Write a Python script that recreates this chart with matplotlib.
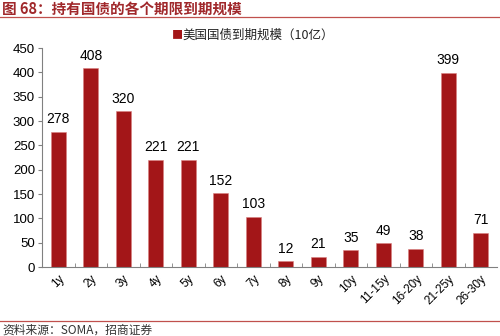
import matplotlib.pyplot as plt
from matplotlib.lines import Line2D

plt.rcParams['font.family'] = ['Liberation Sans', 'Noto Sans CJK SC', 'DejaVu Sans']

# maturity buckets and holdings (billion USD)
terms = ['1y', '2y', '3y', '4y', '5y', '6y', '7y', '8y', '9y', '10y',
         '11-15y', '16-20y', '21-25y', '26-30y']
amounts = [278, 408, 320, 221, 221, 152, 103, 12, 21, 35, 49, 38, 399, 71]
yticks = [0, 50, 100, 150, 200, 250, 300, 350, 400, 450]

title = '图 68：持有国债的各个期限到期规模'
source = '资料来源：SOMA，招商证券'
series_name = '美国国债到期规模（10亿）'

bar_color = '#A31618'
line_color = '#C0504D'
cjk = ['Noto Sans CJK SC', 'DejaVu Sans']

fig = plt.figure(figsize=(5, 3.36), dpi=100)
ax = fig.add_axes([0.084, 0.205, 0.91, 0.652])

x = list(range(len(terms)))
ax.bar(x, amounts, width=0.45, color=bar_color, edgecolor='#D98080', linewidth=0.4)
for xi, v in zip(x, amounts):
    ax.annotate(str(v), (xi, v), xytext=(0, 4), textcoords='offset points',
                ha='center', va='bottom', fontsize=10)

ax.set_xlim(-0.5, len(terms) - 0.5)
ax.set_ylim(0, 450)
ax.set_yticks(yticks)
ax.tick_params(axis='y', labelsize=9.5, length=3, direction='out', color='#808080', pad=2)

# category labels at bar centres, tick marks on the boundaries
ax.set_xticks(x)
ax.set_xticklabels(terms, rotation=45, ha='right', rotation_mode='anchor', fontsize=8.5)
ax.tick_params(axis='x', which='major', length=0, pad=4)
ax.set_xticks([i + 0.5 for i in x[:-1]], minor=True)
ax.tick_params(axis='x', which='minor', length=3, direction='in', color='#808080')

for side in ['top', 'right']:
    ax.spines[side].set_visible(False)
for side in ['left', 'bottom']:
    ax.spines[side].set_color('#808080')
    ax.spines[side].set_linewidth(0.8)

# legend
fig.text(0.343, 0.896, '■', color=bar_color, fontsize=8, va='center', family=cjk)
fig.text(0.364, 0.896, series_name, fontsize=9, va='center', family=cjk, color='#222222')

# header and footer
fig.text(0.004, 0.975, title, fontsize=10.5, fontweight='bold', color='#A0282B',
         va='center', family=cjk)
fig.add_artist(Line2D([0, 1], [0.949, 0.949], color=line_color, lw=0.9))
fig.add_artist(Line2D([0, 1], [0.045, 0.045], color=line_color, lw=0.9))
fig.text(0.004, 0.018, source, fontsize=8.5, color='#333333', va='center', family=cjk)

fig.savefig('out.png', dpi=100)
